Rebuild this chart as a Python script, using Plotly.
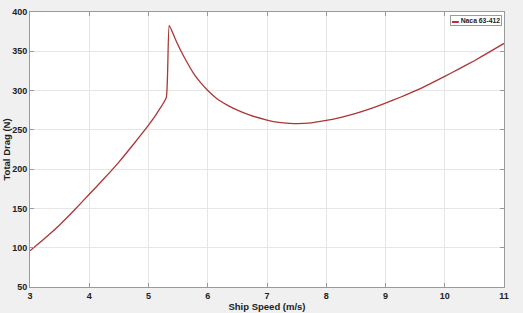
import plotly.graph_objects as go

speed = [3.0, 3.25, 3.5, 3.75, 4.0, 4.25, 4.5, 4.75, 5.0, 5.15, 5.3,
         5.35, 5.45, 5.55, 5.65, 5.76, 5.88, 6.0, 6.15, 6.33, 6.5, 6.7,
         7.0, 7.2, 7.45, 7.7, 8.0, 8.25, 8.5, 8.75, 9.0, 9.25, 9.5, 9.75,
         10.0, 10.25, 10.5, 10.75, 11.0]
drag = [96, 112, 129, 148, 168, 188, 209, 232, 256, 272, 291,
        383, 366, 350, 336, 322, 310, 300, 290, 281.5, 275, 269,
        262.5, 259.5, 258, 258.5, 262, 266, 271, 277, 284, 291.5, 299.5, 308.5,
        318, 328, 338, 349, 360]

x_ticks = [3, 4, 5, 6, 7, 8, 9, 10, 11]
y_ticks = [50, 100, 150, 200, 250, 300, 350, 400]
series_name = "Naca 63-412"
x_title = "Ship Speed (m/s)"
y_title = "Total Drag (N)"
line_color = "#ad3535"

FONT = "Liberation Sans"

fig = go.Figure()
fig.add_trace(go.Scatter(x=speed, y=drag, mode="lines", name=series_name,
                         line=dict(color=line_color, width=1.3, shape="spline", smoothing=0.4),
                         showlegend=False))

axis_common = dict(showgrid=True, gridcolor="#e6e6e6", gridwidth=1,
                   showline=True, linecolor="#9a9a9a", linewidth=1,
                   mirror="ticks", ticks="inside", ticklen=4, tickcolor="#9a9a9a",
                   zeroline=False, automargin=False,
                   tickfont=dict(family=FONT, size=9, color="#222", weight="bold"))

fig.update_xaxes(range=[3, 11], tickvals=x_ticks,
                 title=dict(text=x_title, standoff=0,
                            font=dict(family=FONT, size=9.5, color="#222", weight="bold")),
                 **axis_common)
fig.update_yaxes(range=[50, 400], tickvals=y_ticks, **axis_common)

# y-axis title
fig.add_annotation(
    xref="paper", yref="paper", x=0, y=0.5, xanchor="center", yanchor="middle",
    xshift=-24, textangle=-90, text=y_title, showarrow=False,
    font=dict(family=FONT, size=9.5, color="#222", weight="bold"),
)

# compact legend box (top-right), drawn as text
fig.add_annotation(
    xref="paper", yref="paper", x=0.996, y=0.99, xanchor="right", yanchor="top",
    text=f"<span style='color:{line_color}'>▬</span> {series_name}",
    showarrow=False, bgcolor="white", bordercolor="#9a9a9a", borderwidth=1, borderpad=1,
    font=dict(family=FONT, size=6.8, color="#222", weight="bold"),
)

fig.update_layout(
    width=523, height=313,
    margin=dict(l=30, r=19, t=12, b=26),
    paper_bgcolor="#f0f0f0", plot_bgcolor="white",
    font=dict(family=FONT, color="#222"),
)

fig.write_html("out.html")
